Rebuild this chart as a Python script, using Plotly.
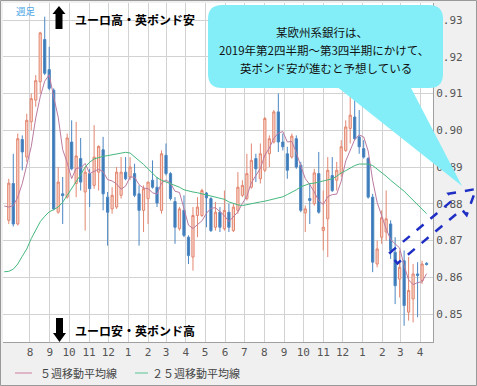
import math
import pandas as pd
import plotly.graph_objects as go

# ---------------- data ----------------
weeks = pd.date_range("2017-06-22", periods=95, freq="7D")   # first week only carries MA values
candle_weeks = weeks[1:]

opens = [0.8755,0.8855,0.8745,0.8975,0.8927,0.9023,0.9082,0.9132,0.9247,0.9165,
         0.9109,0.8777,0.8827,0.8818,0.8968,0.8855,0.8923,0.8832,0.8882,0.8850,
         0.8886,0.8947,0.8818,0.8786,0.8791,0.8823,0.8886,0.8873,0.8882,0.8827,
         0.8782,0.8814,0.8864,0.8845,0.8782,0.8932,0.8882,0.8806,0.8732,0.8782,
         0.8709,0.8655,0.8768,0.8768,0.8829,0.8814,0.8736,0.8777,0.8732,0.8777,
         0.8727,0.8782,0.8823,0.8814,0.8845,0.8923,0.8868,0.8891,0.8936,0.8968,
         0.9050,0.8968,0.8936,0.8927,0.8977,0.8905,0.8775,0.8814,0.8800,0.8882,
         0.8727,0.8759,0.8877,0.8864,0.8882,0.8945,0.9005,0.9036,0.8982,0.8950,
         0.8923,0.8818,0.8636,0.8709,0.8723,0.8745,0.8668,0.8595,0.8645,0.8505,
         0.8541,0.8609,0.8591,0.8638]
highs = [0.8868,0.8936,0.8991,0.8986,0.9045,0.9100,0.9150,0.9268,0.9309,0.9227,
         0.9114,0.8900,0.8873,0.8991,0.9027,0.9023,0.8979,0.8900,0.8895,0.9014,
         0.8959,0.8982,0.8832,0.8845,0.8900,0.8927,0.8927,0.8927,0.8909,0.8850,
         0.8850,0.8859,0.8918,0.8873,0.8945,0.8964,0.8886,0.8818,0.8791,0.8823,
         0.8714,0.8791,0.8818,0.8841,0.8832,0.8818,0.8805,0.8791,0.8836,0.8800,
         0.8800,0.8886,0.8864,0.8936,0.8964,0.8936,0.8964,0.9036,0.8986,0.9055,
         0.9100,0.8991,0.8955,0.8991,0.8986,0.8914,0.8795,0.8855,0.8895,0.8941,
         0.8836,0.8927,0.8927,0.8914,0.8973,0.9027,0.9091,0.9082,0.9055,0.8973,
         0.8927,0.8827,0.8700,0.8782,0.8836,0.8755,0.8709,0.8673,0.8673,0.8655,
         0.8636,0.8641,0.8645,0.8641]
lows = [0.8745,0.8738,0.8741,0.8891,0.8914,0.9000,0.9064,0.9100,0.9150,0.9109,
        0.8782,0.8773,0.8745,0.8814,0.8891,0.8818,0.8836,0.8727,0.8791,0.8841,
        0.8836,0.8782,0.8686,0.8773,0.8786,0.8814,0.8864,0.8864,0.8818,0.8686,
        0.8723,0.8745,0.8841,0.8791,0.8773,0.8877,0.8809,0.8691,0.8727,0.8709,
        0.8636,0.8618,0.8709,0.8764,0.8736,0.8723,0.8727,0.8723,0.8727,0.8723,
        0.8723,0.8773,0.8818,0.8809,0.8841,0.8859,0.8855,0.8886,0.8900,0.8964,
        0.8941,0.8945,0.8868,0.8923,0.8895,0.8777,0.8723,0.8745,0.8795,0.8773,
        0.8673,0.8655,0.8832,0.8836,0.8873,0.8941,0.8964,0.8973,0.8936,0.8923,
        0.8814,0.8614,0.8627,0.8691,0.8700,0.8650,0.8527,0.8545,0.8468,0.8482,
        0.8477,0.8491,0.8582,0.8632]
closes = [0.8856,0.8745,0.8977,0.8941,0.9027,0.9086,0.9135,0.9265,0.9155,0.9114,
          0.8786,0.8859,0.8822,0.8979,0.8895,0.8930,0.8859,0.8886,0.8841,0.8927,
          0.8956,0.8827,0.8777,0.8823,0.8886,0.8886,0.8868,0.8900,0.8823,0.8782,
          0.8841,0.8859,0.8845,0.8802,0.8936,0.8882,0.8814,0.8736,0.8786,0.8714,
          0.8659,0.8768,0.8791,0.8836,0.8816,0.8727,0.8777,0.8736,0.8782,0.8736,
          0.8791,0.8845,0.8850,0.8882,0.8918,0.8895,0.8936,0.9032,0.8977,0.9050,
          0.8968,0.8955,0.8891,0.8984,0.8900,0.8782,0.8786,0.8809,0.8884,0.8777,
          0.8736,0.8891,0.8836,0.8891,0.8955,0.9009,0.9041,0.8977,0.8955,0.8927,
          0.8818,0.8641,0.8677,0.8762,0.8759,0.8673,0.8577,0.8627,0.8523,0.8564,
          0.8609,0.8605,0.8636,0.8635]

ma5_head = [0.8794, 0.8791, 0.8795, 0.8818, 0.8855]
ma5 = ma5_head + list(pd.Series(closes).rolling(5).mean().iloc[4:])

# 25-week MA
ma25 = [0.8615,0.8616,0.8622,0.8636,0.8657,0.8677,0.8705,0.8730,0.8751,0.8766,
        0.8778,0.8784,0.8791,0.8804,0.8822,0.8841,0.8861,0.8879,0.8900,0.8913,
        0.8922,0.8926,0.8929,0.8931,0.8933,0.8935,0.8936,0.8940,0.8938,0.8928,
        0.8918,0.8907,0.8895,0.8883,0.8871,0.8864,0.8859,0.8856,0.8850,0.8845,
        0.8838,0.8834,0.8832,0.8830,0.8827,0.8824,0.8820,0.8818,0.8815,0.8812,
        0.8805,0.8800,0.8797,0.8795,0.8798,0.8800,0.8802,0.8805,0.8807,0.8810,
        0.8813,0.8815,0.8819,0.8825,0.8831,0.8838,0.8846,0.8851,0.8855,0.8856,
        0.8859,0.8861,0.8863,0.8868,0.8875,0.8884,0.8890,0.8897,0.8904,0.8908,
        0.8909,0.8908,0.8904,0.8895,0.8885,0.8875,0.8864,0.8855,0.8844,0.8834,
        0.8822,0.8810,0.8798,0.8786,0.8773]

month_ticks = pd.date_range("2017-08-01", "2019-04-01", freq="MS")
month_labels = [str(d.month) for d in month_ticks]
price_ticks = [0.85, 0.86, 0.87, 0.88, 0.89, 0.90, 0.91, 0.92, 0.93]
price_labels = [f"{v:.2f}" for v in price_ticks]

# ---------------- layout helpers (pixel -> paper) ----------------
W, H = 477, 386
ML, MR, MT, MB = 3, 44, 3, 44
PW, PH = W - ML - MR, H - MT - MB


def px(x):
    return (x - ML) / PW


def py(y):
    return (H - MB - y) / PH


def path(points, close=True):
    s = "M " + " L ".join(f"{px(x):.5f},{py(y):.5f}" for x, y in points)
    return s + (" Z" if close else "")


def rounded_rect(x0, y0, x1, y1, r):
    P = lambda x, y: f"{px(x):.5f},{py(y):.5f}"
    return (f"M {P(x0 + r, y0)} L {P(x1 - r, y0)} Q {P(x1, y0)} {P(x1, y0 + r)} "
            f"L {P(x1, y1 - r)} Q {P(x1, y1)} {P(x1 - r, y1)} "
            f"L {P(x0 + r, y1)} Q {P(x0, y1)} {P(x0, y1 - r)} "
            f"L {P(x0, y0 + r)} Q {P(x0, y0)} {P(x0 + r, y0)} Z")


fig = go.Figure()
fig.add_trace(go.Candlestick(
    x=candle_weeks, open=opens, high=highs, low=lows, close=closes,
    increasing=dict(line=dict(color="#e3866f", width=1), fillcolor="#f9d6cc"),
    decreasing=dict(line=dict(color="#4a86c2", width=1), fillcolor="#3b78b6"),
    whiskerwidth=0, showlegend=False, hoverinfo="skip"))
fig.add_trace(go.Scatter(x=weeks, y=ma5, mode="lines",
                         line=dict(color="#bb7aa0", width=1), showlegend=False, hoverinfo="skip"))
fig.add_trace(go.Scatter(x=weeks, y=ma25, mode="lines",
                         line=dict(color="#46b87e", width=1), showlegend=False, hoverinfo="skip"))

shapes = []
# speech bubble
bubble_col = "#84eef8"
shapes.append(dict(type="path", xref="paper", yref="paper", layer="above",
                   path=rounded_rect(208, 5, 443, 88, 14), fillcolor=bubble_col, line=dict(width=0)))
shapes.append(dict(type="path", xref="paper", yref="paper", layer="above",
                   path=path([(336, 86), (410, 86), (462, 186)]), fillcolor=bubble_col, line=dict(width=0)))
# black arrows
shapes.append(dict(type="path", xref="paper", yref="paper", layer="above",
                   path=path([(59, 6), (65.5, 14), (62.5, 14), (62.5, 29), (55.5, 29), (55.5, 14), (52.5, 14)]),
                   fillcolor="black", line=dict(width=0)))
shapes.append(dict(type="path", xref="paper", yref="paper", layer="above",
                   path=path([(59.5, 342), (66, 333), (63, 333), (63, 318), (56, 318), (56, 333), (53, 333)]),
                   fillcolor="black", line=dict(width=0)))
# blue dashed block arrow
tip = (476.0, 189.0)
ang = math.radians(-40)
ux, uy = math.cos(ang), math.sin(ang)
nx, ny = -uy, ux
L_total, L_head, hw_shaft, hw_head = 108, 24, 6.5, 14
tx, ty = tip
bx, by = tx - L_head * ux, ty - L_head * uy
cx, cy = tx - L_total * ux, ty - L_total * uy
arrow_pts = [(cx - hw_shaft * nx, cy - hw_shaft * ny), (bx - hw_shaft * nx, by - hw_shaft * ny),
             (bx - hw_head * nx, by - hw_head * ny), (tx, ty),
             (bx + hw_head * nx, by + hw_head * ny), (bx + hw_shaft * nx, by + hw_shaft * ny),
             (cx + hw_shaft * nx, cy + hw_shaft * ny)]
shapes.append(dict(type="path", xref="paper", yref="paper", layer="above",
                   path=path(arrow_pts), fillcolor="rgba(0,0,0,0)",
                   line=dict(color="#1f2fc4", width=2.5, dash="dash")))
# legend samples
shapes.append(dict(type="line", xref="paper", yref="paper", x0=px(15), x1=px(32), y0=py(373), y1=py(373),
                   line=dict(color="#d9a3bb", width=1.5)))
shapes.append(dict(type="line", xref="paper", yref="paper", x0=px(135), x1=px(148), y0=py(373), y1=py(373),
                   line=dict(color="#8dd3b3", width=1.5)))
# outer border
shapes.append(dict(type="rect", xref="paper", yref="paper", layer="above",
                   x0=px(0.5), x1=px(476.5), y0=py(385.5), y1=py(0.5),
                   line=dict(color="#999999", width=1)))

jp = "Noto Sans CJK JP"
annotations = [
    dict(text="週足", x=px(14), y=py(11), xanchor="left", yanchor="middle",
         font=dict(family=jp, size=9.5, color="#4aa6e6")),
    dict(text="ユーロ高・英ポンド安", x=px(73), y=py(19), xanchor="left", yanchor="middle",
         font=dict(family=jp, size=12, color="black", weight="bold")),
    dict(text="ユーロ安・英ポンド高", x=px(73), y=py(330), xanchor="left", yanchor="middle",
         font=dict(family=jp, size=12, color="black", weight="bold")),
    dict(text="某欧州系銀行は、", x=px(322), y=py(32), xanchor="center", yanchor="middle",
         font=dict(family=jp, size=11.5, color="#111")),
    dict(text="2019年第2四半期～第3四半期にかけて、", x=px(324), y=py(50), xanchor="center", yanchor="middle",
         font=dict(family=jp, size=11.5, color="#111")),
    dict(text="英ポンド安が進むと予想している", x=px(326), y=py(68), xanchor="center", yanchor="middle",
         font=dict(family=jp, size=11.5, color="#111")),
    dict(text="５週移動平均線", x=px(38), y=py(373), xanchor="left", yanchor="middle",
         font=dict(family=jp, size=11, color="#444")),
    dict(text="２５週移動平均線", x=px(150), y=py(373), xanchor="left", yanchor="middle",
         font=dict(family=jp, size=11, color="#444")),
]
for a in annotations:
    a.update(xref="paper", yref="paper", showarrow=False)

fig.update_layout(
    width=W, height=H, autosize=False,
    margin=dict(l=ML, r=MR, t=MT, b=MB, pad=0),
    paper_bgcolor="#f0f0f0", plot_bgcolor="white",
    shapes=shapes, annotations=annotations,
    hovermode=False,
    xaxis=dict(type="date", range=["2017-06-20", "2019-04-21"], rangeslider=dict(visible=False),
               tickmode="array", tickvals=month_ticks, ticktext=month_labels,
               showgrid=True, gridcolor="#d2d2d2", gridwidth=1, ticks="",
               tickfont=dict(family="DejaVu Sans Mono", size=11, color="#555"),
               showline=True, linecolor="#a0a0a0", linewidth=1, zeroline=False, fixedrange=True),
    yaxis=dict(side="right", range=[0.84238, 0.93463], tickmode="array",
               tickvals=price_ticks, ticktext=price_labels,
               showgrid=True, gridcolor="#d2d2d2", gridwidth=1, ticks="",
               tickfont=dict(family="DejaVu Sans Mono", size=11, color="#555"),
               showline=True, linecolor="#a0a0a0", linewidth=1, zeroline=False, fixedrange=True),
    showlegend=False,
)

fig.write_html("out.html", config={"displayModeBar": False},
               post_script="document.body.style.margin='0px';document.body.style.overflow='hidden';")
